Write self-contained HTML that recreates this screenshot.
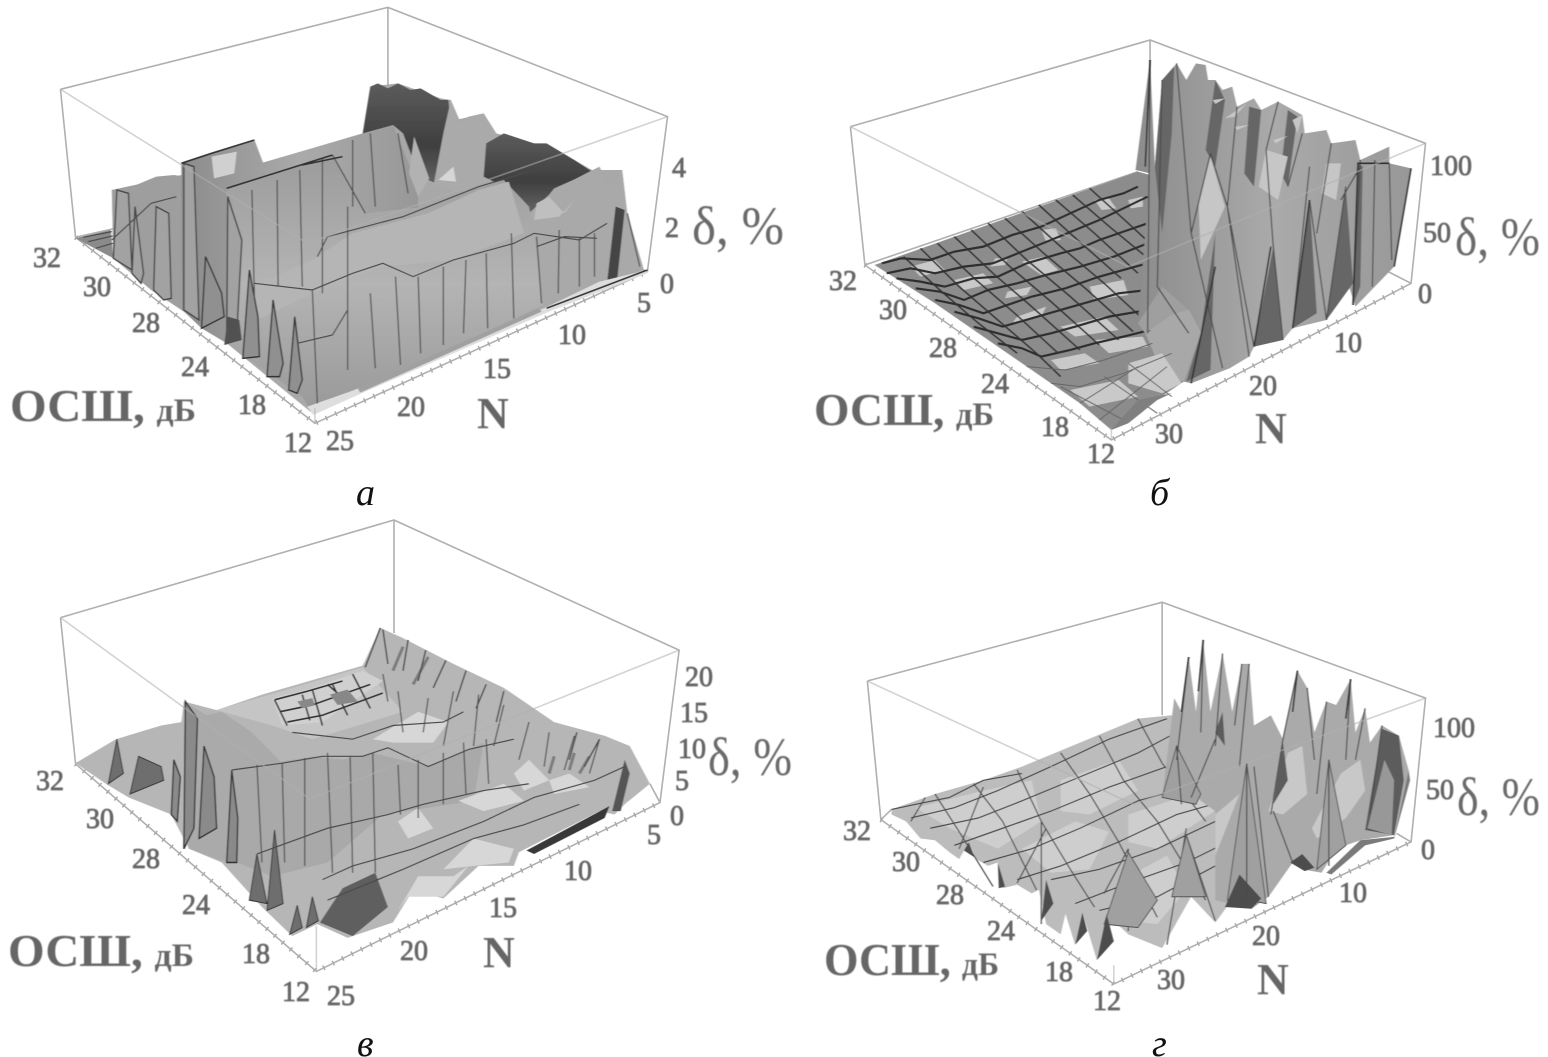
<!DOCTYPE html>
<html><head><meta charset="utf-8"><style>
html,body{margin:0;padding:0;background:#fff}
svg{display:block}
svg *{vector-effect:non-scaling-stroke}
.t{font-family:"Liberation Serif",serif;fill:#666;font-size:28px;stroke:#666;stroke-width:.8px}
.d{font-family:"Liberation Serif",serif;fill:#6a6a6a;font-size:54px}
.o{font-family:"Liberation Serif",serif;fill:#666;font-size:46px;font-weight:bold}
.o tspan{font-size:33px}
.n{font-family:"Liberation Serif",serif;fill:#666;font-size:44px;font-weight:bold}
.c{font-family:"Liberation Serif",serif;fill:#111;font-size:38px;font-style:italic}
.box{fill:none;stroke:#b0b0b0;stroke-width:1.6}
.tick{fill:none;stroke:#aaa;stroke-width:5;stroke-dasharray:1.5 9}
.m{fill:none;stroke:#4c4c4c;stroke-width:1.2}
.k{fill:none;stroke:#333;stroke-width:1.6}
.w{fill:none;stroke:#2e2e2e;stroke-width:2.2}
</style></head><body>
<svg width="1548" height="1057" viewBox="0 0 1548 1057" xmlns="http://www.w3.org/2000/svg">
<defs>
<filter id="b" x="-5%" y="-5%" width="110%" height="110%"><feGaussianBlur stdDeviation="0.9"/></filter>
<filter id="tb" x="-5%" y="-5%" width="110%" height="110%"><feGaussianBlur stdDeviation="0.45"/></filter>
<linearGradient id="g1" x1="0" y1="0" x2="0" y2="1"><stop offset="0" stop-color="#9c9c9c"/><stop offset=".5" stop-color="#b4b4b4"/><stop offset="1" stop-color="#999"/></linearGradient>
<linearGradient id="g2" x1="0" y1="0" x2="1" y2="0"><stop offset="0" stop-color="#8c8c8c"/><stop offset=".5" stop-color="#aaa"/><stop offset="1" stop-color="#989898"/></linearGradient>
<linearGradient id="dk" x1="0" y1="0" x2="0" y2="1"><stop offset="0" stop-color="#5c5c5c"/><stop offset=".6" stop-color="#3f3f3f"/><stop offset="1" stop-color="#666"/></linearGradient>
</defs>

<!-- PANEL A -->
<g transform="scale(.5038,.3333)">
<path class="box" d="M120 268L770 22L1325 350L1285 815L625 1270L150 712L120 268M770 22V280M150 712L360 640M1285 815L1140 730"/>
<path class="tick" d="M150 712L625 1270L1285 815"/>
<g filter="url(#b)">
<path fill="#a8a8a8" d="M222 570L360 525L360 490L505 420L522 488L720 400L735 260L790 250L875 295L895 300L905 360L960 340L985 400L1060 430L1140 480L1175 510L1235 510L1245 640L1278 810L1080 925L700 1180L620 1240L450 1030L362 930L225 775Z"/>
<path fill="#8a8a8a" d="M150 715L220 690L225 775Z"/>
<path class="m" d="M165 712L222 695M175 725L224 708M190 745L224 730"/>
<path fill="#9e9e9e" d="M222 570L270 555L310 530L345 525L365 530L365 935L300 870L225 775Z"/>
<path fill="url(#g2)" d="M360 490L420 460L505 420L522 488L620 445L720 400L780 375L830 560L830 740L620 800L450 1030L400 985L362 930Z"/>
<path fill="#d0d0d0" d="M420 470L470 455L465 520L425 535Z"/>
<path fill="url(#dk)" d="M720 400L735 260L750 250L770 265L790 250L815 270L835 265L875 300L890 300L895 370L880 560L850 540L820 480L800 400L780 375Z"/>
<path fill="#b2b2b2" d="M812 520L822 410L852 535L830 590Z"/>
<path fill="#aaa" d="M860 560L880 400L895 300L915 370L930 350L960 340L985 400L975 530L900 570Z"/>
<path fill="#d6d6d6" d="M870 540L900 500L905 545Z"/>
<path fill="url(#dk)" d="M965 430L1000 400L1060 430L1085 430L1140 480L1175 515L1100 565L1060 640L1030 630L1000 560L960 530Z"/>
<path fill="#a9a9a9" d="M1050 640L1100 570L1170 515L1190 500L1210 565L1235 510L1245 640L1278 810L1210 850L1080 925L1040 800Z"/>
<path fill="#bfbfbf" d="M1065 610L1090 590L1120 640L1140 600L1110 650L1060 660Z"/>
<path fill="url(#g1)" d="M450 565L660 465L725 640L830 622L950 560L1000 540L1050 620L1060 700L1078 915L700 1180L620 1240L600 1190L450 1030Z"/>
<path fill="#b5b5b5" d="M500 860L620 780L700 700L850 640L950 570L1010 545L1040 700L900 780L760 800L700 830L620 880L510 960Z"/>
<path fill="#444" d="M1205 848L1222 620L1240 630L1225 840Z"/>
<path fill="#dedede" d="M610 1220L700 1172L1080 925L1190 845L1285 810L1285 820L1090 935L710 1185L622 1245Z"/>
<path fill="#a0a0a0" d="M710 1165L1070 925L1075 935L715 1178Z"/>
<path fill="#a2a2a2" stroke="#444" stroke-width="1.4" d="M225 775L232 570L255 580L262 810ZM262 820L268 620L285 820L280 850ZM305 870L310 620L335 640L340 895L325 900ZM365 930V490L385 500L395 960ZM450 1030L452 590L480 720L470 1000Z"/>
<path fill="#909090" stroke="#333" stroke-width="1.4" d="M400 985L408 770L440 880L445 950ZM482 1075L495 810L512 950L515 1070ZM530 1130L542 900L562 1090L555 1130ZM573 1170L585 950L600 1140L590 1180Z"/>
<path fill="#515151" d="M445 1035L452 950L475 960L480 1020Z"/>
<path class="m" d="M500 570L505 900M550 540L552 860M595 510L600 860M640 475L640 880M660 465L725 640M690 620L690 1110M735 880L745 1105M785 830L795 1095M830 830L835 1060M880 800L880 1035M925 780L920 1000M965 760L968 985M1015 700L1020 955M1065 710L1075 910M1110 690L1108 880M1150 715L1150 860M1180 700L1180 830M620 870L630 1210M1245 640L1270 800M700 420L700 620M735 400L745 620M790 400L810 580"/>
<path class="m" d="M450 565L660 465M630 770L650 710L800 650L850 620L950 560L1050 515M505 850L620 870L700 820L760 790L820 830L900 780L1020 730L1060 700L1150 720L1205 670M590 1030L660 1005L690 930M222 720L300 610L350 590M1065 740L1120 710L1185 715"/>
<path class="k" d="M360 490L420 460L505 420M450 565L660 465M600 495L680 470M1085 925L1285 810"/>
</g>
<path class="box" style="opacity:.55" d="M120 268L610 730L1325 350M625 1270V1225"/>
</g>

<!-- PANEL B -->
<g transform="translate(790,0) scale(.4833,.3333)">
<path class="box" d="M125 380L745 120L1315 430L1285 850L665 1320L155 795L125 380M745 120V540M155 795L720 515M1285 850L1190 780"/>
<path class="tick" d="M155 795L665 1320L1285 850"/>
<g filter="url(#b)">
<path fill="#8c8c8c" d="M175 795L720 515L745 525L745 1000L830 1130L665 1290L600 1210L550 1160L480 1090L400 1010L300 910Z"/>
<path fill="#a8a8a8" d="M735 1000L790 945L825 930L850 1000L830 1140L780 1150Z"/>
<path fill="#c9c9c9" d="M480 785L525 770L555 810L520 825ZM630 600L660 595L675 625L645 630ZM425 775L450 775L445 795L415 800ZM520 690L550 685L560 720L530 725ZM620 860L690 840L700 885L630 900ZM450 875L500 860L490 885L445 895ZM540 1080L610 1060L640 1090L560 1110ZM580 1170L680 1140L720 1190L620 1220ZM700 600L730 590L730 620L705 625ZM470 950L530 920L520 950L460 970ZM630 1020L730 1010L740 1040L660 1060ZM250 800L300 780L320 810L270 830ZM340 840L400 820L420 850L360 870ZM560 980L650 950L680 990L590 1010ZM700 1090L770 1060L810 1150L770 1180L700 1150Z"/>
<path class="w" d="M190 790L230 775L290 780L340 755L400 740L460 705L520 680L580 640L640 600L690 580L720 560M200 820L250 805L300 820L360 800L420 790L480 755L540 720L590 690L640 660L690 625L740 590M220 835L270 845L320 860L380 835L430 830L490 790L560 760L600 745L640 720L690 695L740 670M260 865L310 875L360 900L410 870L470 850L530 825L600 800L670 770L740 730M300 900L350 915L400 940L450 915L500 890L570 865L640 830L690 810L740 790M340 935L390 955L440 980L500 955L560 930L620 905L680 880L740 870M380 980L430 1000L480 1020L540 1000L590 980L660 950L740 930M430 1030L480 1045L520 1070L580 1050L630 1030L690 1010L745 990"/>
<path class="k" d="M235 770L310 870L390 970L470 1060M270 745L350 860L430 960L510 1060L560 1130M305 730L385 840L465 940L555 1060M340 710L420 820L500 920L600 1050M375 690L455 800L540 905L640 1035M410 670L490 780L580 890L680 1020M445 655L525 760L615 870L710 995M480 635L560 740L650 850L740 970M515 615L595 720L685 835M550 600L630 700L720 820M585 585L665 685L745 780M620 565L700 670L745 730"/>
<path fill="none" stroke="#666" stroke-width="1" d="M490 1100L570 1110L650 1080L750 1030M540 1150L600 1160L690 1120L790 1060M600 1210L720 1100M640 1260L780 1100M700 1090L790 1190M650 1130L760 1240M560 1160L690 1260"/>
<path fill="#7f7f7f" d="M665 1290L720 1200L790 1180L760 1200L700 1270Z"/>
<path fill="url(#g2)" d="M715 510L745 180L755 500L770 240L800 190L820 240L840 190L860 195L865 240L880 240L895 270L915 260L925 320L960 295L975 330L1010 305L1060 345L1065 400L1110 390L1120 430L1170 420L1180 480L1240 440L1240 490L1285 505L1250 800L1170 920L1150 830L1110 960L1040 985L1020 1020L960 1040L950 1070L910 1105L830 1150L815 1145L850 1000L825 930L790 945L735 1000L720 970L745 520Z"/>
<path fill="#666" d="M755 500L770 240L795 200L790 400L770 700ZM860 450L880 240L900 300L880 500ZM940 520L950 320L975 330L960 560ZM960 1040L1000 740L1020 1020ZM1040 985L1075 600L1090 940ZM1110 960L1150 560L1165 850ZM1165 915L1175 490L1185 500L1180 860ZM820 1145L850 1000L880 700L870 1110ZM1015 520L1030 330L1050 350L1030 560Z"/>
<path fill="#c6c6c6" d="M870 470L900 620L850 780L845 600ZM985 450L1030 470L1010 600L970 560ZM1110 490L1140 490L1130 600L1100 580ZM1040 360L1060 345L1050 400ZM875 300L900 295L880 312ZM920 380L950 375L925 390ZM1000 420L1030 408L1005 430ZM900 355L945 310L920 350Z"/>
<path fill="#9f9f9f" d="M720 970L770 860L825 930L790 945L735 1000Z"/>
<path class="m" d="M745 180L740 1000M770 240L760 860L825 1000M800 190L830 700L895 1105M870 460L830 700M870 460L905 620L950 1070M905 620L960 1040M985 450L1000 740L1020 1020M1075 500L1040 985M1075 600L1110 960M1150 560L1110 960M1180 480L1165 915M1210 480L1205 860M1240 490L1245 780M925 320L905 620M1010 305L985 450M1060 400L1030 560M1120 430L1090 700M1180 500L1140 600"/>
<path class="k" d="M830 1150L880 800M960 1040L995 740M1040 985L1075 600M1165 915L1175 490L1240 490M1250 800L1285 505M745 180L735 500"/>
</g>
<path class="box" style="opacity:.55" d="M125 380L700 800L1315 430M665 1320V1285"/>
</g>

<!-- PANEL C -->
<g transform="translate(0,520) scale(.5038,.3425)">
<path class="box" d="M120 285L782 0L1348 380L1310 825L628 1318L150 712L120 285M782 0V330M1310 825L1290 770"/>
<path class="tick" d="M150 712L628 1318L1310 825"/>
<g filter="url(#b)">
<path fill="#b6b6b6" d="M150 710L230 640L320 600L360 590L365 530L430 555L520 510L720 425L755 315L800 345L900 420L1000 490L1100 590L1200 630L1250 660L1290 770L1240 830L1220 860L1190 850L1030 970L1020 1010L950 1010L880 1105L820 1080L780 1175L690 1220L630 1180L580 1215L520 1130L440 1000L375 960L340 860L255 810L210 770Z"/>
<path fill="#c5c5c5" d="M430 555L720 430L800 560L620 640L540 600Z"/>
<path fill="#a9a9a9" d="M460 730L620 690L680 700L740 680L850 720L960 650L940 820L760 860L650 1000L540 1040L470 1000Z"/>
<path fill="#aaa" d="M365 530L410 570L440 560L500 620L560 710L470 730L450 1000L375 960Z"/>
<path fill="#8a8a8a" stroke="#333" stroke-width="1.4" d="M365 960L368 530L392 580L385 900ZM395 930L405 660L425 750L430 900ZM450 1000L460 730L472 870L470 1000ZM340 860L345 700L358 750L352 880Z"/>
<path fill="#6e6e6e" stroke="#333" stroke-width="1" d="M258 800L275 690L320 720L325 760ZM215 770L232 640L245 740ZM495 1110L510 975L530 1120ZM530 1140L545 905L562 1120ZM575 1210L590 1125L600 1190ZM608 1190L620 1100L632 1170Z"/>
<path fill="#5e5e5e" d="M635 1175L680 1075L745 1030L770 1130L700 1215Z"/>
<path fill="#393939" d="M1045 965L1210 835L1200 870L1060 975Z"/>
<path fill="#555" d="M1215 850L1240 700L1250 740L1232 850Z"/>
<path fill="#d7d7d7" d="M790 1140L830 1040L900 1040L930 1010L880 1100L810 1100ZM880 1020L940 930L1020 960L1010 1000L940 1010ZM1020 740L1050 700L1090 760L1040 790ZM1090 760L1130 740L1170 780L1100 800ZM790 880L830 840L860 900L810 930ZM910 820L1000 770L1040 820L960 850ZM740 640L830 560L890 590L860 650L780 650Z"/>
<path fill="#d0d0d0" d="M540 520L610 495L720 440L760 470L640 590L560 600Z"/>
<path class="k" d="M545 525L610 500L680 470M555 560L620 540L735 480M570 590L640 570L760 505M620 495L640 600M660 480L690 570M700 450L735 550M545 525L570 600M600 510L615 585M650 480L685 525"/>
<path fill="#888" d="M655 510L690 495L710 530L670 540ZM590 530L620 520L625 540L600 550Z"/>
<path class="m" d="M510 715L520 1000M560 710L565 1000M605 695L605 1010M650 680L660 1030M695 690L700 1030M740 680L745 1030M790 715L795 860M830 700L830 870M880 680L880 830M920 650L925 800M965 640L970 770M760 450L770 530M790 500L800 620M850 520L840 620M900 500L880 660M950 510L940 660M1000 540L980 660M1050 590L1030 700M1090 620L1080 720M1140 630L1120 730M1190 640L1170 740"/>
<path class="m" d="M460 730L560 710L640 690L720 690L770 665L850 720L930 670L1020 640M640 1050L700 1010L820 960L960 880L1060 810L1180 760L1240 720M510 975L650 900L770 860L840 830L960 790L1050 770M650 1110L800 1020L940 930L1040 890L1150 830M580 620L700 640L780 600L880 590L920 560"/>
<path fill="none" stroke="#444" stroke-width="1.4" d="M755 315L725 430M760 320L770 420M810 350L800 440M845 380L830 470M885 410L860 490M925 440L905 530M965 480L945 550M1000 500L985 590M1145 620L1130 700M1190 640L1160 720"/>
<path fill="none" stroke="#555" stroke-width="3" opacity=".6" d="M1100 690L1090 740M1140 680L1130 730M1170 690L1150 740M800 370L780 440M850 400L820 480"/>
</g>
<path class="box" style="opacity:.55" d="M120 285L615 815L1348 380M628 1318V1185"/>
</g>

<!-- PANEL D -->
<g transform="translate(790,520) scale(.4833,.3425)">
<path class="box" d="M160 470L770 240L1315 520L1285 940L670 1355L188 875L160 470M770 240V570M188 875L210 845M1285 940L1255 915"/>
<path class="tick" d="M188 875L670 1355L1285 940"/>
<g filter="url(#b)">
<path fill="#bcbcbc" d="M210 845L300 800L400 760L480 720L600 650L720 580L790 570L800 600L960 700L1000 850L1040 1000L990 1100L955 1135L925 1090L880 1175L830 1100L770 1250L700 1210L655 1150L635 1285L605 1145L590 1240L570 1150L560 1210L530 1180L515 1080L500 1090L470 1065L440 1075L430 1000L410 1010L385 990L370 940L350 990L330 970L300 935L270 930L240 880L210 860Z"/>
<path fill="#d2d2d2" d="M260 840L400 790L500 760L520 880L430 960L330 900ZM560 760L680 700L720 790L620 860L560 850ZM480 960L590 880L660 910L620 1020L540 1030ZM700 860L850 790L900 830L760 960L700 940ZM700 1040L780 980L820 1080L760 1180L700 1170Z" opacity=".8"/>
<path class="m" d="M210 845L260 830L330 810L400 760L480 740M250 870L340 840L430 790L540 720L660 640L780 580M290 900L390 870L480 820L600 750L720 680L800 620M340 950L440 900L540 850L660 780L780 720M400 1000L500 960L600 900L720 820L850 770M470 1050L560 1010L680 940L800 860L900 820M540 1050L640 1020L760 960L880 880M590 1120L700 1060L820 1000L920 930M640 1140L760 1100L880 1010"/>
<path class="m" d="M300 800L350 910L420 1070M380 770L440 880L510 1080M470 730L520 880L580 1020L630 1130M560 680L620 800L680 940L760 1160M640 630L690 760L760 880L860 1110M720 580L770 710L860 880M280 810L250 880M400 780L350 960M530 900L470 1060M700 960L650 1090M520 880L520 1180M700 960L700 1200M820 900L780 1240M820 920L880 1170"/>
<path fill="#aaa" d="M770 810L795 520L810 560L825 400L840 560L855 350L870 560L895 390L915 560L935 420L950 420L960 600L995 570L1020 640L1050 440L1070 490L1085 620L1110 530L1130 540L1160 465L1170 620L1190 550L1200 650L1225 600L1260 630L1280 730L1250 920L1180 935L1130 960L1100 1030L1060 1020L1040 1000L990 1100L955 1135L880 1110L880 850L850 820L800 700Z"/>
<path fill="#c8c8c8" d="M1030 680L1060 660L1070 800L1020 860L990 850ZM1140 740L1180 700L1190 790L1150 870L1090 930L1080 900ZM880 860L930 800L880 980Z"/>
<path fill="#5c5c5c" d="M1190 905L1225 610L1260 630L1270 760L1250 920ZM1000 830L1020 650L1030 760ZM880 620L895 560L900 660Z"/>
<path fill="#989898" d="M1195 900L1230 700L1250 760L1245 920Z"/>
<path fill="#a0a0a0" stroke="#555" stroke-width="1" d="M770 810L800 660L850 800L840 830ZM905 1110L945 710L985 1120L950 1110ZM1090 1020L1115 700L1150 950ZM650 1180L700 970L760 1110L720 1190ZM790 1100L820 920L860 1100Z"/>
<path fill="#4e4e4e" d="M635 1285L655 1150L670 1230ZM590 1240L605 1145L615 1200ZM430 1000L432 1075L445 1070ZM360 965L370 940L382 985ZM520 1170L530 1050L545 1120ZM900 1130L930 1035L975 1105L955 1135ZM1035 1000L1060 975L1085 1015L1065 1025Z"/>
<path fill="#7a7a7a" d="M1110 1030L1180 935L1250 925L1280 730L1283 760L1250 930L1190 950L1120 1035Z"/>
<path class="m" d="M825 400L800 700M855 350L850 620M895 390L880 660M935 420L920 600M950 420L930 720M1050 440L1020 640M1070 490L1085 700M1110 530L1090 800M1160 465L1150 700M1190 550L1170 700M1225 600L1200 860M800 660L810 830M945 710L945 1110M1115 700L1115 1010M1020 640L995 860M880 640L830 810M1000 850L1040 1000M960 720L990 1100"/>
<path class="k" d="M825 400L810 560M855 350L845 500M1050 440L1040 560M1160 465L1150 580"/>
</g>
<path class="box" style="opacity:.55" d="M160 470L710 830L1315 520M670 1355V1300"/>
</g>

<g filter="url(#tb)">
<!-- LABELS A -->
<text class="t" x="33" y="267">32</text><text class="t" x="83" y="296">30</text><text class="t" x="132" y="332">28</text><text class="t" x="181" y="376">24</text><text class="t" x="238" y="414">18</text><text class="t" x="284" y="452">12</text><text class="t" x="326" y="450">25</text><text class="t" x="397" y="416">20</text><text class="t" x="483" y="378">15</text><text class="t" x="558" y="344">10</text><text class="t" x="637" y="312">5</text><text class="t" x="660" y="293">0</text><text class="t" x="665" y="237">2</text><text class="t" x="672" y="177">4</text>
<text class="d" x="692" y="244" textLength="92" lengthAdjust="spacingAndGlyphs">δ, %</text>
<text class="o" x="10" y="421" textLength="186" lengthAdjust="spacingAndGlyphs">ОСШ, <tspan>дБ</tspan></text>
<text class="n" x="477" y="428">N</text>
<!-- LABELS B -->
<text class="t" x="829" y="290">32</text><text class="t" x="879" y="319">30</text><text class="t" x="929" y="357">28</text><text class="t" x="981" y="393">24</text><text class="t" x="1041" y="436">18</text><text class="t" x="1087" y="463">12</text><text class="t" x="1155" y="443">30</text><text class="t" x="1249" y="395">20</text><text class="t" x="1334" y="352">10</text><text class="t" x="1418" y="303">0</text><text class="t" x="1423" y="242">50</text><text class="t" x="1430" y="175">100</text>
<text class="d" x="1455" y="255" textLength="85" lengthAdjust="spacingAndGlyphs">δ, %</text>
<text class="o" x="814" y="425" textLength="180" lengthAdjust="spacingAndGlyphs">ОСШ, <tspan>дБ</tspan></text>
<text class="n" x="1255" y="443">N</text>
<!-- LABELS C -->
<text class="t" x="36" y="790">32</text><text class="t" x="86" y="828">30</text><text class="t" x="132" y="868">28</text><text class="t" x="182" y="914">24</text><text class="t" x="242" y="963">18</text><text class="t" x="282" y="1001">12</text><text class="t" x="327" y="1005">25</text><text class="t" x="400" y="960">20</text><text class="t" x="489" y="917">15</text><text class="t" x="564" y="880">10</text><text class="t" x="647" y="844">5</text><text class="t" x="670" y="825">0</text><text class="t" x="675" y="790">5</text><text class="t" x="678" y="758">10</text><text class="t" x="680" y="722">15</text><text class="t" x="685" y="686">20</text>
<text class="d" x="708" y="775" textLength="84" lengthAdjust="spacingAndGlyphs">δ, %</text>
<text class="o" x="8" y="966" textLength="186" lengthAdjust="spacingAndGlyphs">ОСШ, <tspan>дБ</tspan></text>
<text class="n" x="483" y="967">N</text>
<!-- LABELS D -->
<text class="t" x="843" y="840">32</text><text class="t" x="892" y="871">30</text><text class="t" x="936" y="904">28</text><text class="t" x="987" y="940">24</text><text class="t" x="1045" y="981">18</text><text class="t" x="1093" y="1010">12</text><text class="t" x="1157" y="989">30</text><text class="t" x="1252" y="945">20</text><text class="t" x="1339" y="902">10</text><text class="t" x="1421" y="859">0</text><text class="t" x="1426" y="799">50</text><text class="t" x="1433" y="737">100</text>
<text class="d" x="1457" y="815" textLength="83" lengthAdjust="spacingAndGlyphs">δ, %</text>
<text class="o" x="824" y="975" textLength="175" lengthAdjust="spacingAndGlyphs">ОСШ, <tspan>дБ</tspan></text>
<text class="n" x="1257" y="994">N</text>
</g>
<text class="c" x="356" y="505">а</text>
<text class="c" x="1150" y="505">б</text>
<text class="c" x="357" y="1056">в</text>
<text class="c" x="1152" y="1056">г</text>
</svg>
</body></html>
